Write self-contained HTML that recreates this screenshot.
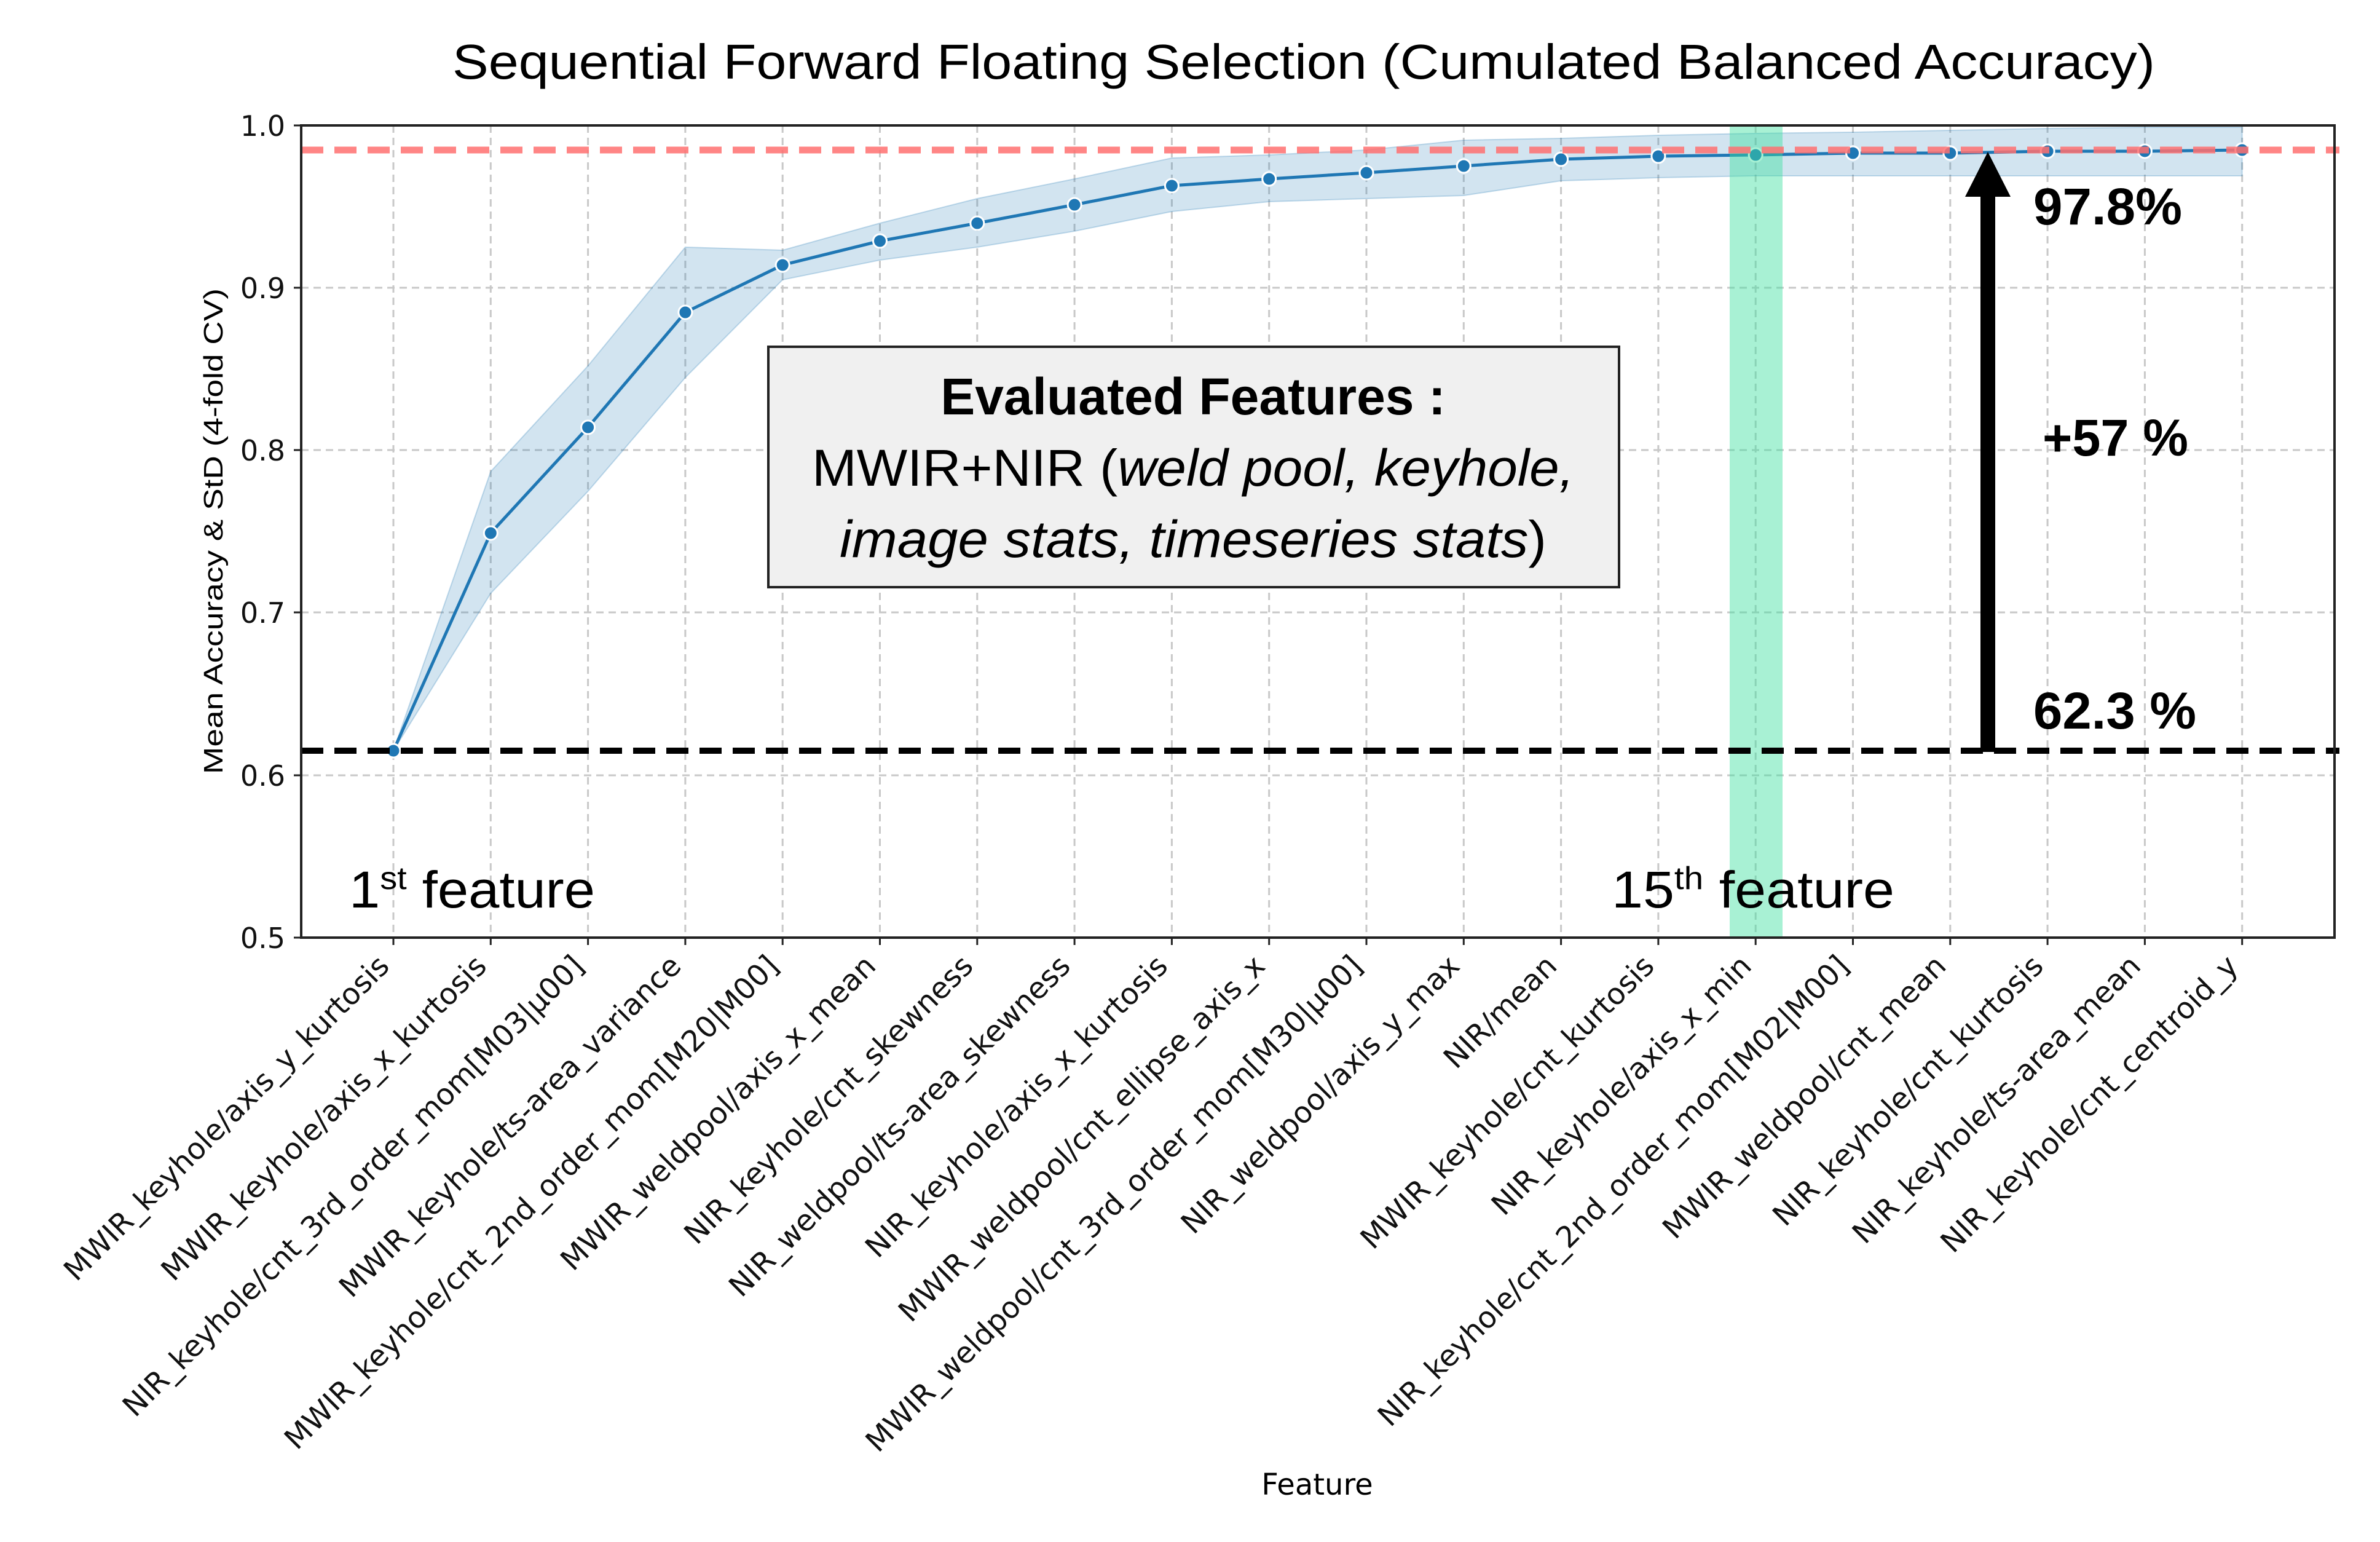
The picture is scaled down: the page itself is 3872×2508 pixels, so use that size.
<!DOCTYPE html>
<html><head><meta charset="utf-8"><style>html,body{margin:0;padding:0;background:#fff}svg{display:block}</style></head>
<body>
<svg width="3872" height="2508" viewBox="0 0 3872 2508" xmlns="http://www.w3.org/2000/svg">
<rect width="3872" height="2508" fill="#fff"/>
<!-- title -->
<text x="2121" y="128" font-family="Liberation Sans, sans-serif" font-size="80" text-anchor="middle" textLength="2770" lengthAdjust="spacingAndGlyphs">Sequential Forward Floating Selection (Cumulated Balanced Accuracy)</text>
<!-- grid -->
<g stroke="#c8c8c8" stroke-width="3" stroke-dasharray="12,8">
<line x1="490" y1="468" x2="3798" y2="468"/><line x1="490" y1="732" x2="3798" y2="732"/><line x1="490" y1="996" x2="3798" y2="996"/><line x1="490" y1="1261" x2="3798" y2="1261"/>
<line x1="640" y1="204" x2="640" y2="1525"/><line x1="798.3" y1="204" x2="798.3" y2="1525"/><line x1="956.6" y1="204" x2="956.6" y2="1525"/><line x1="1114.9" y1="204" x2="1114.9" y2="1525"/><line x1="1273.2" y1="204" x2="1273.2" y2="1525"/><line x1="1431.5" y1="204" x2="1431.5" y2="1525"/><line x1="1589.8" y1="204" x2="1589.8" y2="1525"/><line x1="1748.1" y1="204" x2="1748.1" y2="1525"/><line x1="1906.4" y1="204" x2="1906.4" y2="1525"/><line x1="2064.7" y1="204" x2="2064.7" y2="1525"/><line x1="2223" y1="204" x2="2223" y2="1525"/><line x1="2381.3" y1="204" x2="2381.3" y2="1525"/><line x1="2539.6" y1="204" x2="2539.6" y2="1525"/><line x1="2697.9" y1="204" x2="2697.9" y2="1525"/><line x1="2856.2" y1="204" x2="2856.2" y2="1525"/><line x1="3014.5" y1="204" x2="3014.5" y2="1525"/><line x1="3172.8" y1="204" x2="3172.8" y2="1525"/><line x1="3331.1" y1="204" x2="3331.1" y2="1525"/><line x1="3489.4" y1="204" x2="3489.4" y2="1525"/><line x1="3647.7" y1="204" x2="3647.7" y2="1525"/>
</g>
<!-- band -->
<polygon fill="#1f77b4" fill-opacity="0.2" stroke="#1f77b4" stroke-opacity="0.25" stroke-width="2" points="640,1221 798.3,767 956.6,595 1114.9,402 1273.2,407 1431.5,363 1589.8,323 1748.1,291 1906.4,257 2064.7,252 2223,244 2381.3,228 2539.6,225 2697.9,220 2856.2,217 3014.5,215 3172.8,212 3331.1,209 3489.4,207 3647.7,207 3647.7,286 3489.4,286 3331.1,286 3172.8,286 3014.5,286 2856.2,286 2697.9,289 2539.6,294 2381.3,318 2223,323 2064.7,328 1906.4,344 1748.1,376 1589.8,402 1431.5,423 1273.2,455 1114.9,614 956.6,799 798.3,965"/>
<!-- line -->
<polyline fill="none" stroke="#1f77b4" stroke-width="5" points="640,1221 798.3,867 956.6,695 1114.9,508 1273.2,431 1431.5,392 1589.8,363 1748.1,333 1906.4,302 2064.7,291 2223,281 2381.3,270 2539.6,259 2697.9,254 2856.2,252 3014.5,249 3172.8,249 3331.1,246 3489.4,246 3647.7,244"/>
<g fill="#1f77b4" stroke="#fff" stroke-width="3">
<circle cx="640" cy="1221" r="11"/><circle cx="798.3" cy="867" r="11"/><circle cx="956.6" cy="695" r="11"/><circle cx="1114.9" cy="508" r="11"/><circle cx="1273.2" cy="431" r="11"/><circle cx="1431.5" cy="392" r="11"/><circle cx="1589.8" cy="363" r="11"/><circle cx="1748.1" cy="333" r="11"/><circle cx="1906.4" cy="302" r="11"/><circle cx="2064.7" cy="291" r="11"/><circle cx="2223" cy="281" r="11"/><circle cx="2381.3" cy="270" r="11"/><circle cx="2539.6" cy="259" r="11"/><circle cx="2697.9" cy="254" r="11"/><circle cx="2856.2" cy="252" r="11"/><circle cx="3014.5" cy="249" r="11"/><circle cx="3172.8" cy="249" r="11"/><circle cx="3331.1" cy="246" r="11"/><circle cx="3489.4" cy="246" r="11"/><circle cx="3647.7" cy="244" r="11"/>
</g>
<!-- green band -->
<rect x="2814" y="204" width="86" height="1321" fill="#3ee0a0" fill-opacity="0.45"/>
<!-- dashed lines -->
<line x1="490" y1="244" x2="3806" y2="244" stroke="#ff7070" stroke-opacity="0.85" stroke-width="11" stroke-dasharray="36,18"/>
<line x1="490" y1="1221" x2="3806" y2="1221" stroke="#000" stroke-width="10" stroke-dasharray="36,18"/>
<!-- arrow -->
<rect x="3222" y="310" width="24" height="913" fill="#000"/>
<polygon points="3234,247 3271,320 3197,320" fill="#000"/>
<!-- axes -->
<rect x="490" y="204" width="3308" height="1321" fill="none" stroke="#222" stroke-width="4"/>
<g stroke="#222" stroke-width="3">
<line x1="478" y1="204" x2="490" y2="204"/><line x1="478" y1="468" x2="490" y2="468"/><line x1="478" y1="732" x2="490" y2="732"/><line x1="478" y1="996" x2="490" y2="996"/><line x1="478" y1="1261" x2="490" y2="1261"/><line x1="478" y1="1525" x2="490" y2="1525"/>
<line x1="640" y1="1525" x2="640" y2="1537"/><line x1="798.3" y1="1525" x2="798.3" y2="1537"/><line x1="956.6" y1="1525" x2="956.6" y2="1537"/><line x1="1114.9" y1="1525" x2="1114.9" y2="1537"/><line x1="1273.2" y1="1525" x2="1273.2" y2="1537"/><line x1="1431.5" y1="1525" x2="1431.5" y2="1537"/><line x1="1589.8" y1="1525" x2="1589.8" y2="1537"/><line x1="1748.1" y1="1525" x2="1748.1" y2="1537"/><line x1="1906.4" y1="1525" x2="1906.4" y2="1537"/><line x1="2064.7" y1="1525" x2="2064.7" y2="1537"/><line x1="2223" y1="1525" x2="2223" y2="1537"/><line x1="2381.3" y1="1525" x2="2381.3" y2="1537"/><line x1="2539.6" y1="1525" x2="2539.6" y2="1537"/><line x1="2697.9" y1="1525" x2="2697.9" y2="1537"/><line x1="2856.2" y1="1525" x2="2856.2" y2="1537"/><line x1="3014.5" y1="1525" x2="3014.5" y2="1537"/><line x1="3172.8" y1="1525" x2="3172.8" y2="1537"/><line x1="3331.1" y1="1525" x2="3331.1" y2="1537"/><line x1="3489.4" y1="1525" x2="3489.4" y2="1537"/><line x1="3647.7" y1="1525" x2="3647.7" y2="1537"/>
</g>
<!-- y tick labels -->
<g font-family="DejaVu Sans, sans-serif" font-size="46" text-anchor="end" fill="#111">
<text x="464" y="221">1.0</text><text x="464" y="485">0.9</text><text x="464" y="749">0.8</text><text x="464" y="1013">0.7</text><text x="464" y="1278">0.6</text><text x="464" y="1542">0.5</text>
</g>
<text transform="translate(362,864) rotate(-90)" font-family="Liberation Sans, sans-serif" font-size="44" text-anchor="middle" textLength="790" lengthAdjust="spacingAndGlyphs">Mean Accuracy &amp; StD (4-fold CV)</text>
<!-- x tick labels -->
<g font-family="DejaVu Sans, sans-serif" font-size="48" text-anchor="end" fill="#111">
<text transform="translate(636,1574) rotate(-45)">MWIR_keyhole/axis_y_kurtosis</text>
<text transform="translate(794.3,1574) rotate(-45)">MWIR_keyhole/axis_x_kurtosis</text>
<text transform="translate(952.6,1574) rotate(-45)">NIR_keyhole/cnt_3rd_order_mom[M03|μ00]</text>
<text transform="translate(1110.9,1574) rotate(-45)">MWIR_keyhole/ts-area_variance</text>
<text transform="translate(1269.2,1574) rotate(-45)">MWIR_keyhole/cnt_2nd_order_mom[M20|M00]</text>
<text transform="translate(1427.5,1574) rotate(-45)">MWIR_weldpool/axis_x_mean</text>
<text transform="translate(1585.8,1574) rotate(-45)">NIR_keyhole/cnt_skewness</text>
<text transform="translate(1744.1,1574) rotate(-45)">NIR_weldpool/ts-area_skewness</text>
<text transform="translate(1902.4,1574) rotate(-45)">NIR_keyhole/axis_x_kurtosis</text>
<text transform="translate(2060.7,1574) rotate(-45)">MWIR_weldpool/cnt_ellipse_axis_x</text>
<text transform="translate(2219,1574) rotate(-45)">MWIR_weldpool/cnt_3rd_order_mom[M30|μ00]</text>
<text transform="translate(2377.3,1574) rotate(-45)">NIR_weldpool/axis_y_max</text>
<text transform="translate(2535.6,1574) rotate(-45)">NIR/mean</text>
<text transform="translate(2693.9,1574) rotate(-45)">MWIR_keyhole/cnt_kurtosis</text>
<text transform="translate(2852.2,1574) rotate(-45)">NIR_keyhole/axis_x_min</text>
<text transform="translate(3010.5,1574) rotate(-45)">NIR_keyhole/cnt_2nd_order_mom[M02|M00]</text>
<text transform="translate(3168.8,1574) rotate(-45)">MWIR_weldpool/cnt_mean</text>
<text transform="translate(3327.1,1574) rotate(-45)">NIR_keyhole/cnt_kurtosis</text>
<text transform="translate(3485.4,1574) rotate(-45)">NIR_keyhole/ts-area_mean</text>
<text transform="translate(3643.7,1574) rotate(-45)">NIR_keyhole/cnt_centroid_y</text>
</g>
<text x="2143" y="2431" font-family="DejaVu Sans, sans-serif" font-size="48" text-anchor="middle">Feature</text>
<!-- text box -->
<rect x="1250" y="564" width="1384" height="391" fill="#f0f0f0" stroke="#222" stroke-width="4"/>
<g font-family="Liberation Sans, sans-serif" font-size="84" text-anchor="middle" fill="#000">
<text x="1941" y="674" font-weight="bold">Evaluated Features :</text>
<text x="1941" y="790" textLength="1240" lengthAdjust="spacingAndGlyphs">MWIR+NIR (<tspan font-style="italic">weld pool, keyhole,</tspan></text>
<text x="1941" y="906" textLength="1150" lengthAdjust="spacingAndGlyphs"><tspan font-style="italic">image stats, timeseries stats</tspan>)</text>
</g>
<!-- annotations -->
<g font-family="Liberation Sans, sans-serif" font-size="84" fill="#000">
<text x="568" y="1476" textLength="400" lengthAdjust="spacingAndGlyphs">1<tspan font-size="52" dy="-30">st</tspan><tspan dy="30"> feature</tspan></text>
<text x="2622" y="1476" textLength="460" lengthAdjust="spacingAndGlyphs">15<tspan font-size="52" dy="-30">th</tspan><tspan dy="30"> feature</tspan></text>
<text x="3308" y="365" font-weight="bold" textLength="242" lengthAdjust="spacingAndGlyphs">97.8%</text>
<text x="3323" y="741" font-weight="bold" textLength="237" lengthAdjust="spacingAndGlyphs">+57 %</text>
<text x="3308" y="1185" font-weight="bold" textLength="265" lengthAdjust="spacingAndGlyphs">62.3 %</text>
</g>
</svg>
</body></html>
